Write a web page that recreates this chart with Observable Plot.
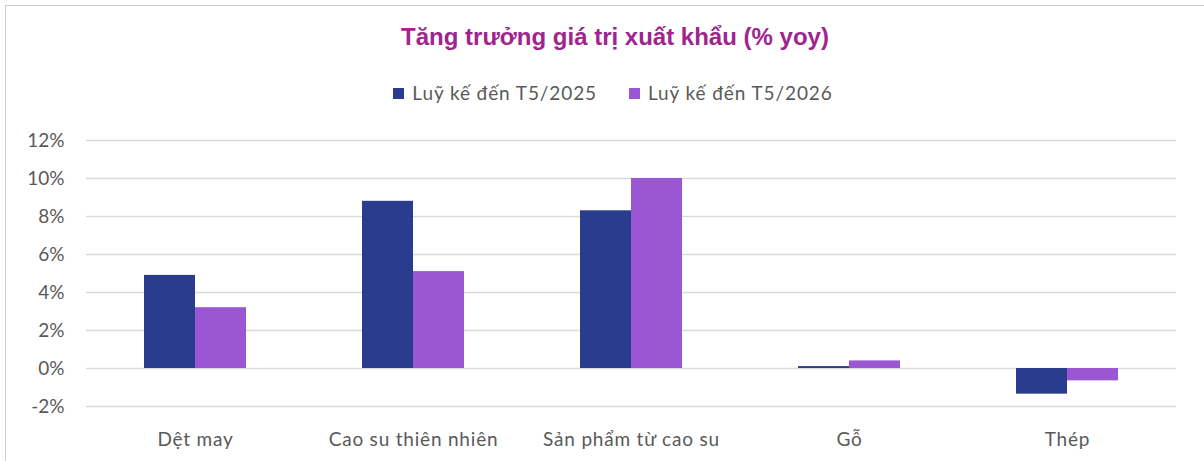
<!DOCTYPE html>
<html>
<head>
<meta charset="utf-8">
<script src="https://cdn.jsdelivr.net/npm/d3@7"></script>
<script src="https://cdn.jsdelivr.net/npm/@observablehq/plot@0.6"></script>
<style>
  html, body { margin: 0; padding: 0; background: #fff; }
  #wrap { position: relative; width: 1204px; height: 461px; overflow: hidden; }
  #frame { position: absolute; left: 5px; top: 5px; width: 1300px; height: 500px;
           border-left: 1.5px solid #d0d0d0; border-top: 1.5px solid #d0d0d0; box-sizing: border-box; }
  #title { position: absolute; left: 0; width: 1230px; top: 23px; text-align: center;
           font-family: "Liberation Sans", Arial, sans-serif; font-weight: bold; font-size: 24px; color: #A0248F; }
  #legend { position: absolute; left: 0; width: 1226px; top: 81px; text-align: center;
            font-family: Lato, "Open Sans", sans-serif; font-size: 19px; color: #595959; letter-spacing: 0.9px; }
  #legend span.item { display: inline-block; margin: 0 16px; }
  #legend span.sw { display: inline-block; width: 11px; height: 11px; margin-right: 8px; vertical-align: 1px; }
  #chart { position: absolute; left: 0; top: 120px; }
  #chart svg g[aria-label="fx-axis tick label"] text { letter-spacing: 0.8px; }
</style>
</head>
<body>
<div id="wrap">
  <div id="frame"></div>
  <div id="title"></div>
  <div id="legend"></div>
  <div id="chart"></div>
</div>
<script>
const titleText = "Tăng trưởng giá trị xuất khẩu (% yoy)";
const categories = ["Dệt may", "Cao su thiên nhiên", "Sản phẩm từ cao su", "Gỗ", "Thép"];
const seriesNames = ["Luỹ kế đến T5/2025", "Luỹ kế đến T5/2026"];
const seriesColors = ["#293C8E", "#9B57D3"];
const values2025 = [4.9, 8.8, 8.3, 0.1, -1.35];
const values2026 = [3.2, 5.1, 10.0, 0.4, -0.65];
const yTicks = [-2, 0, 2, 4, 6, 8, 10, 12];

document.getElementById("title").textContent = titleText;
const leg = document.getElementById("legend");
seriesNames.forEach((s, i) => {
  const item = document.createElement("span");
  item.className = "item";
  const sw = document.createElement("span");
  sw.className = "sw";
  sw.style.background = seriesColors[i];
  item.appendChild(sw);
  item.appendChild(document.createTextNode(s));
  leg.appendChild(item);
});

const data = [];
categories.forEach((c, i) => {
  data.push({category: c, series: seriesNames[0], value: values2025[i]});
  data.push({category: c, series: seriesNames[1], value: values2026[i]});
});

const chart = Plot.plot({
  width: 1204,
  height: 341,
  marginTop: 20,
  marginBottom: 55,
  marginLeft: 84,
  marginRight: 26,
  style: {fontFamily: "Lato, 'Open Sans', sans-serif", fontSize: "19px", color: "#595959", background: "transparent"},
  fx: {domain: categories, padding: 0, label: null, axis: "bottom", tickSize: 0, tickPadding: 26},
  x: {domain: seriesNames, paddingInner: 0, paddingOuter: 1.1, axis: null},
  y: {domain: [-2, 12], ticks: yTicks, tickFormat: d => d + "%", label: null, tickSize: 0, tickPadding: 22},
  color: {domain: seriesNames, range: seriesColors},
  marks: [
    Plot.ruleY(yTicks, {stroke: "#d9d9d9", strokeWidth: 1.5}),
    Plot.barY(data, {fx: "category", x: "series", y: "value", fill: "series"})
  ]
});
document.getElementById("chart").appendChild(chart);
</script>
</body>
</html>
